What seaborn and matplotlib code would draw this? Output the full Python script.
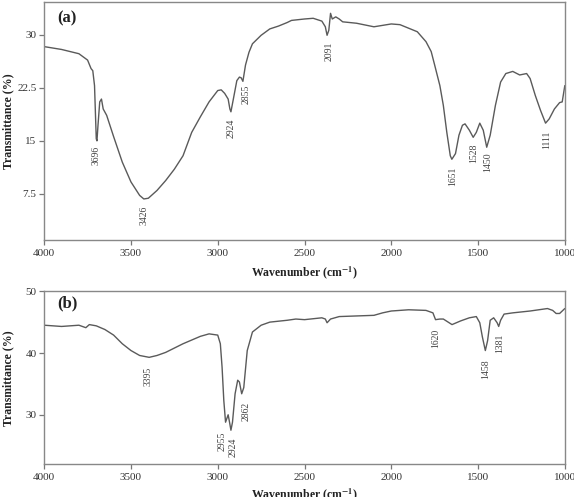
import numpy as np
import seaborn as sns
import matplotlib.pyplot as plt

sns.set_style("white")
plt.rcParams['font.family'] = ['Liberation Serif', 'DejaVu Serif']
plt.rcParams['mathtext.fontset'] = 'stix'

# Spectrum (a) - wavenumber / transmittance
wn_a = [4000, 3900, 3800, 3750, 3730, 3720, 3710, 3700, 3696, 3690, 3680, 3670,
        3660, 3640, 3600, 3550, 3500, 3450, 3426, 3400, 3350, 3300, 3250, 3200,
        3150, 3100, 3050, 3000, 2980, 2960, 2940, 2930, 2924, 2910, 2890, 2875,
        2865, 2855, 2840, 2820, 2800, 2750, 2700, 2650, 2600, 2575, 2500, 2450,
        2400, 2380, 2370, 2360, 2350, 2340, 2320, 2300, 2280, 2200, 2100, 2000,
        1950, 1900, 1850, 1800, 1770, 1750, 1720, 1700, 1680, 1660, 1651, 1630,
        1610, 1590, 1575, 1550, 1528, 1510, 1490, 1470, 1450, 1430, 1400, 1370,
        1340, 1300, 1260, 1220, 1200, 1170, 1140, 1111, 1090, 1060, 1030, 1015,
        1000]
tr_a = [28.3, 27.9, 27.3, 26.4, 25.2, 24.9, 22.8, 15.3, 15.0, 17.2, 20.5, 20.9,
        19.5, 18.6, 15.6, 12.0, 9.2, 7.3, 6.8, 6.9, 8.0, 9.4, 11.0, 12.9,
        16.2, 18.4, 20.5, 22.1, 22.2, 21.7, 20.9, 19.5, 19.1, 20.9, 23.5, 24.0,
        23.9, 23.4, 25.7, 27.5, 28.7, 29.9, 30.8, 31.2, 31.7, 32.0, 32.2, 32.3,
        31.9, 31.1, 29.9, 30.6, 33.0, 32.2, 32.5, 32.2, 31.8, 31.6, 31.1, 31.5,
        31.4, 30.9, 30.4, 29.0, 27.6, 25.7, 22.8, 20.0, 16.2, 12.9, 12.4, 13.2,
        15.8, 17.2, 17.4, 16.5, 15.5, 16.2, 17.5, 16.5, 14.1, 15.8, 20.0, 23.3,
        24.5, 24.8, 24.3, 24.5, 23.8, 21.4, 19.3, 17.5, 18.1, 19.5, 20.4, 20.5,
        22.8]

# Spectrum (b)
wn_b = [4000, 3900, 3800, 3760, 3740, 3700, 3650, 3600, 3550, 3500, 3450, 3395,
        3350, 3300, 3200, 3100, 3050, 3000, 2985, 2975, 2965, 2955, 2940, 2932,
        2924, 2915, 2900, 2885, 2875, 2862, 2850, 2830, 2800, 2750, 2700, 2600,
        2550, 2500, 2400, 2380, 2370, 2350, 2300, 2100, 2050, 2000, 1900, 1800,
        1760, 1745, 1720, 1700, 1650, 1600, 1550, 1510, 1490, 1475, 1458, 1445,
        1430, 1410, 1390, 1381, 1370, 1350, 1300, 1200, 1150, 1100, 1070, 1050,
        1030, 1000]
tr_b = [44.5, 44.3, 44.5, 44.1, 44.6, 44.4, 43.8, 42.9, 41.5, 40.4, 39.6, 39.3,
        39.6, 40.1, 41.5, 42.7, 43.1, 42.9, 41.5, 37.7, 32.3, 28.8, 30.0, 28.8,
        27.5, 28.8, 33.4, 35.6, 35.3, 33.4, 34.4, 40.4, 43.4, 44.5, 45.0, 45.3,
        45.5, 45.4, 45.7, 45.5, 44.9, 45.5, 45.9, 46.1, 46.5, 46.8, 47.0, 46.9,
        46.5, 45.4, 45.5, 45.5, 44.6, 45.2, 45.7, 45.9, 44.9, 42.6, 40.4, 42.0,
        45.3, 45.7, 44.9, 44.3, 45.3, 46.3, 46.5, 46.8, 47.0, 47.2, 46.9, 46.4,
        46.4, 47.2]

# Peak labels: text, x position, y position
peaks_a = ["3696", "3426", "2924", "2855", "2091", "1651", "1528", "1450", "1111"]
peak_x_a = [3701, 3424, 2923, 2837, 2359, 1645, 1524, 1443, 1104]
peak_y_a = [13.0, 4.5, 16.8, 21.6, 27.6, 10.0, 13.2, 12.0, 15.1]

peaks_b = ["3395", "2955", "2924", "2862", "1620", "1458", "1381"]
peak_x_b = [3401, 2975, 2912, 2839, 1745, 1455, 1374]
peak_y_b = [36.2, 25.7, 24.7, 30.5, 42.3, 37.4, 41.5]

line_col = "#5a5a5a"
fig = plt.figure(figsize=(5.74, 4.97), dpi=100)
ax1 = fig.add_axes([0.077, 0.517, 0.907, 0.479])
ax2 = fig.add_axes([0.077, 0.066, 0.907, 0.348])


def spectrum(ax, wn, tr, names, px, py, ylim, yticks, tag):
    sns.lineplot(x=wn, y=tr, ax=ax, color=line_col, linewidth=1.0, sort=False)
    ax.set_xlim(4000, 1000)
    ax.set_ylim(*ylim)
    ax.set_xticks([4000, 3500, 3000, 2500, 2000, 1500, 1000])
    ax.set_yticks(yticks)
    ax.set_yticklabels([f"{t:g}" for t in yticks])
    ax.tick_params(axis="both", direction="out", length=3.5, width=0.9,
                   color="#777777", labelsize=8, pad=2, labelcolor="#333333",
                   bottom=True, left=True)
    ax.tick_params(axis="x", pad=3)
    for s in ax.spines.values():
        s.set_color("#888888")
        s.set_linewidth(1.0)
    for n, x, y in zip(names, px, py):
        ax.text(x, y, n, rotation=90, ha="center", va="center",
                fontsize=7, color="#444444")
    ax.text(0.025, 0.93, tag, transform=ax.transAxes, fontsize=12,
            fontweight="bold", va="center", color="#222222")
    ax.set_ylabel("Transmittance (%)", fontsize=8.5, fontweight="bold",
                  color="#222222")
    ax.set_xlabel(r"Wavenumber (cm$^{\mathbf{-1}}$)", fontsize=8.5,
                  fontweight="bold", color="#222222")


spectrum(ax1, wn_a, tr_a, peaks_a, peak_x_a, peak_y_a, (1.0, 34.6),
         [7.5, 15, 22.5, 30], "(a)")
spectrum(ax2, wn_b, tr_b, peaks_b, peak_x_b, peak_y_b, (22, 50),
         [30, 40, 50], "(b)")
ax1.set_yticklabels(["7.5", "15", "22.5", "30"])
ax1.xaxis.set_label_coords(0.5, -0.10)
ax1.yaxis.set_label_coords(-0.058, 0.5)
ax2.yaxis.set_label_coords(-0.058, 0.5)
ax2.xaxis.set_label_coords(0.5, -0.125)

fig.savefig("out.png", dpi=100)
